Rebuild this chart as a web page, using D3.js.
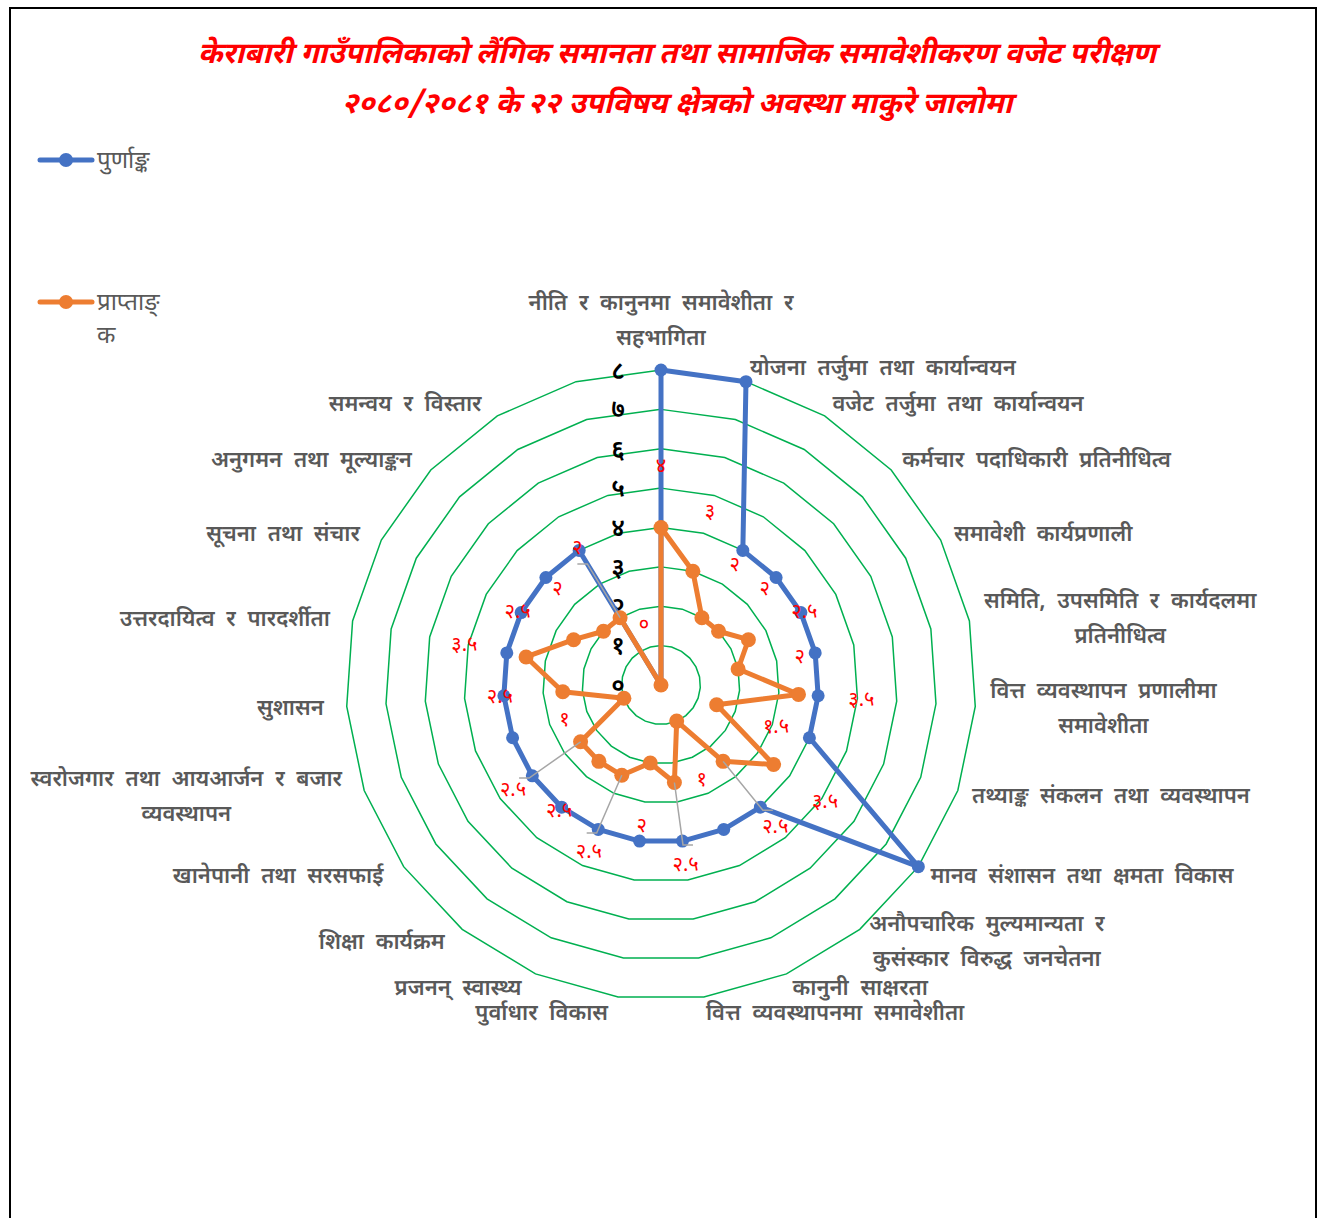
<!DOCTYPE html>
<html>
<head>
<meta charset="utf-8">
<script src="https://cdn.jsdelivr.net/npm/d3@7"></script>
<style>
  body { margin: 0; background: #fff; }
  svg { font-family: "Noto Sans Devanagari", "Noto Sans", "DejaVu Sans", sans-serif; }
</style>
</head>
<body>
<div id="chart"></div>
<script>
// chart data
var categories = [
  "नीति र कानुनमा समावेशीता र\nसहभागिता",
  "योजना तर्जुमा तथा कार्यान्वयन",
  "वजेट तर्जुमा तथा कार्यान्वयन",
  "कर्मचार पदाधिकारी प्रतिनीधित्व",
  "समावेशी कार्यप्रणाली",
  "समिति, उपसमिति र कार्यदलमा\nप्रतिनीधित्व",
  "वित्त व्यवस्थापन प्रणालीमा\nसमावेशीता",
  "तथ्याङ्क संकलन तथा व्यवस्थापन",
  "मानव संशासन तथा क्षमता विकास",
  "अनौपचारिक मुल्यमान्यता र\nकुसंस्कार विरुद्ध जनचेतना",
  "कानुनी साक्षरता",
  "वित्त व्यवस्थापनमा समावेशीता",
  "पुर्वाधार विकास",
  "प्रजनन् स्वास्थ्य",
  "शिक्षा कार्यक्रम",
  "खानेपानी तथा सरसफाई",
  "स्वरोजगार तथा आयआर्जन र बजार\nव्यवस्थापन",
  "सुशासन",
  "उत्तरदायित्व र पारदर्शीता",
  "सूचना तथा संचार",
  "अनुगमन तथा मूल्याङ्कन",
  "समन्वय र विस्तार",
  ""
];
var fullMarks = [8, 8, 4, 4, 4, 4, 4, 4, 8, 4, 4, 4, 4, 4, 4, 4, 4, 4, 4, 4, 4, 4, 0];
var obtainedMarks = [4, 3, 2, 2, 2.5, 2, 3.5, 1.5, 3.5, 2.5, 1, 2.5, 2, 2.5, 2.5, 2.5, 1, 2.5, 3.5, 2.5, 2, 2, 0];
var tickLabels = ["०", "१", "२", "३", "४", "५", "६", "७", "८"];
var seriesNames = ["पुर्णाङ्क", "प्राप्ताङ्\nक"];
var titleLines = [
  "केराबारी गाउँपालिकाको लैंगिक समानता तथा सामाजिक समावेशीकरण वजेट परीक्षण",
  "२०८०/२०८१ के २२ उपविषय क्षेत्रको अवस्था माकुरे जालोमा"
];

// labels with a leader line (moved further out)
var leaderIdx = [9, 11, 13, 15, 21];

var svgWidth = 1321, svgHeight = 1218;
var cx = 661, cy = 685, radius = 315;
var blue = "#4472C4", orange = "#ED7D31", green = "#00B050", gray = "#595959";

var svg = d3.select("#chart").append("svg")
  .attr("width", svgWidth)
  .attr("height", svgHeight);

// chart border
svg.append("rect")
  .attr("x", 10).attr("y", 8)
  .attr("width", 1306).attr("height", 1230)
  .attr("fill", "none").attr("stroke", "#000").attr("stroke-width", 2);

// title
svg.selectAll(".title").data(titleLines).enter().append("text")
  .attr("class", "title")
  .attr("x", 677)
  .attr("y", (d, i) => 63 + i * 50)
  .attr("text-anchor", "middle")
  .attr("fill", "#FF0000")
  .attr("font-size", 29.5)
  .attr("font-weight", "bold")
  .attr("font-style", "italic")
  .text(d => d);

var n = categories.length;
var angle = d3.scaleLinear().domain([0, n]).range([0, 2 * Math.PI]);
var rScale = d3.scaleLinear().domain([0, 8]).range([0, radius]);

function px(i, v) { return cx + rScale(v) * Math.sin(angle(i)); }
function py(i, v) { return cy - rScale(v) * Math.cos(angle(i)); }

var g = svg.append("g").attr("transform", `translate(${cx},${cy})`);

// green grid polygons
var levels = d3.range(1, 9);
var gridLine = d3.lineRadial()
  .angle((d, i) => angle(i))
  .radius(d => rScale(d))
  .curve(d3.curveLinearClosed);

g.selectAll(".grid").data(levels).enter().append("path")
  .attr("class", "grid")
  .attr("d", lv => gridLine(d3.range(n).map(() => lv)))
  .attr("fill", "none")
  .attr("stroke", green)
  .attr("stroke-width", 1.5);

// tick labels on the vertical axis
g.selectAll(".tick").data(tickLabels).enter().append("text")
  .attr("class", "tick")
  .attr("x", -36)
  .attr("y", (d, i) => -rScale(i))
  .attr("dy", "0.35em")
  .attr("text-anchor", "end")
  .attr("font-size", 25)
  .attr("font-weight", 600)
  .attr("fill", "#000")
  .text(d => d);

// series
var seriesLine = d3.lineRadial()
  .angle((d, i) => angle(i))
  .radius(d => rScale(d))
  .curve(d3.curveLinearClosed);

function drawSeries(values, color, r) {
  g.append("path")
    .attr("d", seriesLine(values))
    .attr("fill", "none")
    .attr("stroke", color)
    .attr("stroke-width", 5)
    .attr("stroke-linejoin", "round");
  g.selectAll(null).data(values).enter().append("circle")
    .attr("cx", (d, i) => rScale(d) * Math.sin(angle(i)))
    .attr("cy", (d, i) => -rScale(d) * Math.cos(angle(i)))
    .attr("r", r)
    .attr("fill", color);
}
drawSeries(fullMarks, blue, 6.5);
drawSeries(obtainedMarks, orange, 7.5);

// data labels for obtained marks
function toDev(v) {
  var digits = "०१२३४५६७८९";
  return String(v).replace(/[0-9]/g, c => digits[+c]);
}
function labelR(i) { return obtainedMarks[i] + (leaderIdx.includes(i) ? 2.1 : 1.6); }

// leader lines
leaderIdx.forEach(function(i) {
  var v = obtainedMarks[i];
  var a = angle(i);
  var s = Math.sin(a) >= 0 ? 1 : -1;
  var ex = px(i, labelR(i) - 0.5), ey = py(i, labelR(i) - 0.5);
  var pts = [[px(i, v), py(i, v)], [ex, ey], [ex + s * 10, ey]];
  svg.append("path")
    .attr("d", d3.line()(pts))
    .attr("fill", "none")
    .attr("stroke", "#A6A6A6")
    .attr("stroke-width", 1.5);
});

svg.selectAll(".dlabel").data(obtainedMarks).enter().append("text")
  .attr("class", "dlabel")
  .attr("x", (d, i) => px(i, labelR(i)))
  .attr("y", (d, i) => py(i, labelR(i)))
  .attr("dy", "0.35em")
  .attr("text-anchor", "middle")
  .attr("font-size", 20)
  .attr("fill", "#FF0000")
  .text(d => toDev(d));

// category labels
var labelRadius = radius + 15;
categories.forEach(function(name, i) {
  if (!name) return;
  var a = angle(i);
  var s = Math.sin(a);
  var x = cx + labelRadius * s;
  var y = cy - labelRadius * Math.cos(a);
  var lines = name.split("\n");
  var lineH = 35;
  var t = svg.append("g");
  var texts = t.selectAll("text").data(lines).enter().append("text")
    .attr("font-size", 22)
    .attr("font-weight", 600)
    .attr("word-spacing", 6)
    .attr("fill", gray)
    .attr("text-anchor", "middle")
    .text(d => d);
  var w = d3.max(texts.nodes(), nd => nd.getComputedTextLength());
  var bx;
  if (Math.abs(s) < 0.05) { bx = x; y = y - 18 - (lines.length - 1) * lineH; }
  else if (s > 0) bx = x + w / 2;
  else bx = x - 8 - w / 2;
  var y0 = (Math.abs(s) < 0.05) ? y : y - (lines.length - 1) * lineH / 2;
  texts.attr("x", bx).attr("y", (d, k) => y0 + k * lineH).attr("dy", "0.35em");
});

// legend
seriesNames.forEach(function(name, i) {
  var ly = 160 + i * 142;
  var color = i === 0 ? blue : orange;
  svg.append("line")
    .attr("x1", 40).attr("x2", 92).attr("y1", ly).attr("y2", ly)
    .attr("stroke", color).attr("stroke-width", 5).attr("stroke-linecap", "round");
  svg.append("circle").attr("cx", 66).attr("cy", ly).attr("r", 7).attr("fill", color);
  svg.selectAll(null).data(name.split("\n")).enter().append("text")
    .attr("x", 97)
    .attr("y", (d, k) => ly + k * 33)
    .attr("dy", "0.35em")
    .attr("font-size", 24)
    .attr("fill", gray)
    .text(d => d);
});
</script>
</body>
</html>
